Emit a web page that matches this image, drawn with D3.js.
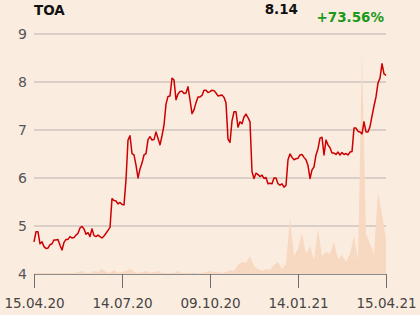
<!DOCTYPE html>
<html lang="en">
  <head>
    <meta charset="utf-8">
    <title>TOA</title>
    <script src="https://d3js.org/d3.v7.min.js"></script>
    <style>
      body { margin: 0; background: #fbece0; }
      text { font-family: "DejaVu Sans", sans-serif; }
    </style>
  </head>
  <body>
  <script>
  const width = 420;
  const height = 315;

  const ticker = "TOA";
  const lastPrice = "8.14";
  const change = "+73.56%";

  const dateLabels = ["15.04.20", "14.07.20", "09.10.20", "14.01.21", "15.04.21"];
  const yTicks = [4, 5, 6, 7, 8, 9];

  // closing prices, one reading per ~2px of the original chart
  const prices = [
    4.67, 4.88, 4.88, 4.63, 4.67, 4.57, 4.53, 4.54, 4.61, 4.63, 4.71, 4.71, 4.72, 4.60, 4.50, 4.66,
    4.72, 4.72, 4.78, 4.75, 4.76, 4.81, 4.85, 4.96, 4.99, 4.94, 4.83, 4.86, 4.78, 4.94, 4.80, 4.78,
    4.81, 4.78, 4.75, 4.79, 4.85, 4.91, 4.97, 5.57, 5.53, 5.52, 5.46, 5.49, 5.45, 5.44, 5.96, 6.79,
    6.88, 6.51, 6.48, 6.27, 6.00, 6.19, 6.31, 6.48, 6.51, 6.80, 6.86, 6.79, 6.80, 6.96, 6.83, 6.69,
    6.88, 7.10, 7.54, 7.70, 7.71, 8.08, 8.04, 7.63, 7.75, 7.80, 7.81, 7.76, 7.77, 7.90, 7.63, 7.34,
    7.42, 7.57, 7.69, 7.69, 7.72, 7.83, 7.83, 7.78, 7.80, 7.83, 7.82, 7.77, 7.71, 7.72, 7.73, 7.68,
    7.56, 6.81, 6.74, 7.19, 7.38, 7.38, 7.06, 7.17, 7.13, 7.27, 7.33, 7.26, 7.17, 6.13, 5.99, 6.10,
    6.07, 6.03, 6.06, 5.99, 6.01, 5.88, 5.89, 5.88, 6.00, 6.00, 5.88, 5.85, 5.88, 5.81, 5.85, 6.38,
    6.50, 6.43, 6.38, 6.40, 6.41, 6.48, 6.49, 6.43, 6.38, 6.26, 5.99, 6.17, 6.23, 6.48, 6.61, 6.83,
    6.85, 6.48, 6.79, 6.69, 6.63, 6.52, 6.52, 6.49, 6.54, 6.48, 6.53, 6.49, 6.51, 6.48, 6.54, 6.55,
    7.04, 7.04, 6.97, 6.96, 6.92, 7.17, 6.96, 6.96, 7.07, 7.29, 7.50, 7.69, 7.98, 8.08, 8.38, 8.17,
    8.14
  ];

  // traded volume (thousands), one reading per ~4px
  const volumes = [
    10, 10, 10, 10, 10, 10, 10, 10, 10, 10, 10, 20, 30, 10, 10, 30,
    20, 50, 20, 10, 40, 10, 20, 30, 50, 20, 10, 20, 30, 10, 20, 30,
    10, 10, 10, 10, 30, 10, 10, 10, 0, 10, 10, 20, 30, 20, 20, 10,
    20, 40, 30, 90, 120, 110, 180, 80, 50, 30, 50, 40, 90, 120, 50, 100,
    560, 180, 250, 410, 200, 280, 140, 450, 180, 220, 200, 320, 150, 190, 120, 200,
    380, 140, 2200, 400, 300, 200, 820, 600, 340
  ];

  const margin = { top: 34, right: 34, bottom: 41, left: 34 };
  const plotW = width - margin.left - margin.right;
  const plotH = height - margin.top - margin.bottom;

  const svg = d3.select(document.body).append('svg')
    .attr('width', width).attr('height', height);

  svg.append('rect').attr('width', width).attr('height', height).attr('fill', '#fbece0');

  const g = svg.append('g').attr('transform', 'translate(' + margin.left + ',' + margin.top + ')');

  const x = d3.scaleLinear().domain([0, prices.length - 1]).range([0, plotW]);
  const xv = d3.scaleLinear().domain([0, volumes.length - 1]).range([0, plotW]);
  const y = d3.scaleLinear().domain([4, 9]).range([plotH, 0]);
  const yv = d3.scaleLinear().domain([0, 2400]).range([plotH, 0]);

  // grid
  g.selectAll('line.grid').data(yTicks).enter()
    .append('line')
    .attr('class', 'grid')
    .attr('x1', 0).attr('x2', plotW)
    .attr('y1', d => y(d)).attr('y2', d => y(d))
    .attr('stroke', '#b8b2ac').attr('stroke-width', 1);

  g.selectAll('text.ylab').data(yTicks).enter()
    .append('text')
    .attr('class', 'ylab')
    .attr('x', -7).attr('y', d => y(d))
    .attr('dy', '0.35em')
    .attr('text-anchor', 'end')
    .attr('font-size', '14px')
    .attr('fill', '#555')
    .text(d => d);

  // volume
  const area = d3.area()
    .x((d, i) => xv(i))
    .y0(plotH)
    .y1(d => yv(d));
  g.append('path').datum(volumes)
    .attr('d', area)
    .attr('fill', '#f7d8c0');

  // price
  const line = d3.line()
    .x((d, i) => x(i))
    .y(d => y(d));
  g.append('path').datum(prices)
    .attr('d', line)
    .attr('fill', 'none')
    .attr('stroke', '#cc0000')
    .attr('stroke-width', 1.5)
    .attr('stroke-linejoin', 'round');

  // x axis
  const tickIdx = dateLabels.map((d, i) => i * (prices.length - 1) / (dateLabels.length - 1));
  const xAxis = d3.axisBottom(x)
    .tickValues(tickIdx)
    .tickSize(14)
    .tickPadding(10)
    .tickFormat((d, i) => dateLabels[i]);
  const ax = g.append('g').attr('transform', 'translate(0,' + plotH + ')').call(xAxis);
  ax.select('.domain').attr('stroke', '#8c8c8c').attr('d', 'M0,0.5H' + plotW);
  ax.selectAll('.tick line').attr('stroke', '#6e6e6e');
  ax.selectAll('.tick text')
    .attr('font-family', '"DejaVu Sans", sans-serif')
    .attr('font-size', '13.5px')
    .attr('fill', '#444');

  // header
  svg.append('text')
    .attr('x', 34).attr('y', 15)
    .attr('font-size', '13.5px').attr('font-weight', 'bold')
    .attr('fill', '#111')
    .text(ticker);
  svg.append('text')
    .attr('x', 298).attr('y', 14)
    .attr('text-anchor', 'end')
    .attr('font-size', '13.5px').attr('font-weight', 'bold')
    .attr('fill', '#111')
    .text(lastPrice);
  svg.append('text')
    .attr('x', 384).attr('y', 22)
    .attr('text-anchor', 'end')
    .attr('font-size', '13.5px').attr('font-weight', 'bold')
    .attr('fill', '#1a9a1a')
    .text(change);
</script>
  </body>
</html>
